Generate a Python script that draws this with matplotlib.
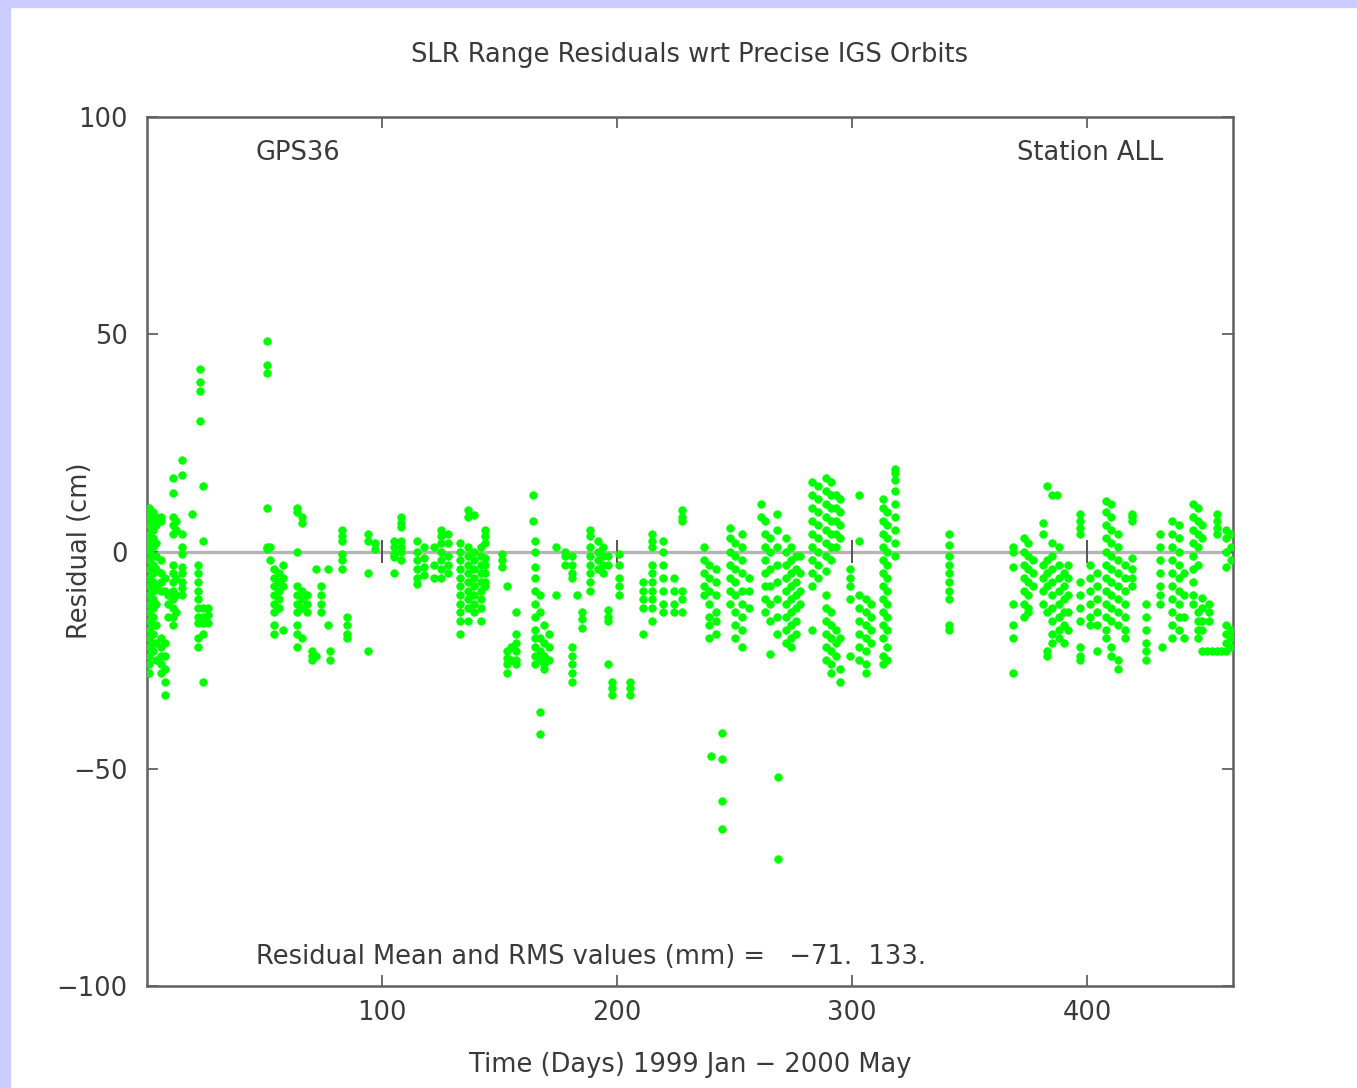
import matplotlib
matplotlib.use("Agg")
import matplotlib.pyplot as plt
from matplotlib.patches import Rectangle

# ---------------- data (day, residuals in cm) ----------------
early_1999 = [
    (1, [10, 9, 8, 6, 4, 3, 2, 1, 0, -2, -4, -6, -8, -10, -12, -14, -16, -18, -20, -22, -24, -26, -28]),
    (2.5, [9, 7, 5, 3, 1, -1, -3, -5, -7, -9, -11, -13, -15, -17, -19, -21, -23]),
    (4, [8, 6, 2, -1, -4, -8, -12, -17, -21, -25]),
    (6, [8, 7, -2, -5, -7, -9, -20, -22, -24, -26, -28]),
    (7.5, [-6, -9, -21, -24, -27, -30, -33]),
    (9, [-10, -12, -15]),
    (11, [17, 13.5, 8, 6, 4, -3, -5, -7, -9, -11, -13, -15, -17]),
    (12.5, [7, 5, -6, -10, -14]),
    (15, [21, 17.5, 4, 1, -0.5, -3.5, -5, -7, -8.5, -10]),
    (19, [8.7]),
    (21.5, [-3, -5, -7, -9, -11, -13, -15, -16.5, -20, -22]),
    (22.5, [42, 39, 37, 30]),
    (24, [15, 2.5, -13, -15, -16.5, -19, -30]),
    (26, [-13, -14.5, -16.5]),
]

spring_1999 = [
    (51, [48.5, 43, 41, 10, 1, 0.5]),
    (52.5, [1, -2]),
    (54, [-4, -6, -8, -10, -12, -14, -17, -19]),
    (56, [-5, -7, -9, -11, -13]),
    (58, [-3, -6, -8, -18]),
    (64, [10, 9, 0, -8, -10, -12, -14, -17, -19, -22]),
    (66, [8, 6.5, -9, -11, -13, -20]),
    (68, [-10, -12, -14]),
    (70, [-23, -24, -25]),
    (72, [-4, -24]),
    (74, [-8, -10, -12, -14]),
    (77, [-4, -17]),
    (78, [-23, -25]),
    (83, [5, 3.5, 2.5, -0.5, -2, -4]),
    (85, [-15, -17, -19, -20]),
    (94, [4, 2.5, -5, -23]),
    (97, [2, 0.5]),
]

summer_1999 = [
    (105, [2.5, 1, -0.5, -1.3, -5]),
    (108, [8, 6.5, 5.6, 2.5, 1, 0, -2]),
    (115, [2.5, 0, -2, -4, -6, -7.5]),
    (118, [1, -1.5, -3.5, -5.5]),
    (122, [1, -3, -6]),
    (125, [5, 3.5, 2, 0, -2, -4, -6]),
    (128, [4, 2, -1, -3, -5]),
    (133, [2, 0, -2, -4, -6, -8, -10, -12, -14, -16, -19]),
    (136.5, [9.5, 8, 1, -1, -3, -5, -7, -9, -11, -13, -16]),
    (139, [8.5, 0, -2, -4, -6, -8, -10, -12, -14]),
    (142, [1, -1, -3, -5, -7, -9, -11, -13, -16]),
    (144, [5, 3.5, 2, -1.4, -3, -5, -7, -8]),
    (151, [-0.5, -2, -3.5]),
    (153, [-8, -23, -24.5, -26, -28]),
    (155, [-22, -25]),
    (157, [-14, -19, -21, -23, -25, -26]),
    (164, [13, 7]),
    (165, [2.5, 0, -3.5, -6, -9, -12, -15, -18, -20, -22, -24, -26]),
    (167, [-10, -14, -20, -23, -25, -37, -42]),
    (169, [-17, -21, -24, -26, -27]),
    (171, [-19, -22, -25]),
    (174, [1, -10]),
    (178, [0, -1, -3]),
    (181, [-1, -3, -5, -6, -22, -24, -26, -28, -30]),
    (183, [-10]),
    (185, [-14, -15.5, -17.5]),
    (188.5, [5, 3.5, 1, -1, -3, -5, -7, -9]),
    (192, [2.5, 0, -2, -4]),
    (194, [1, -1, -3, -5]),
    (196, [-1, -3, -13.5, -15, -16, -26]),
    (198, [-30, -31.5, -33]),
    (201, [-0.5, -3, -6, -8, -10]),
    (205.5, [-30, -31.5, -33]),
    (211, [-7, -9, -11, -13, -19]),
    (215, [4, 2.5, 1, -3, -5, -7, -9, -11, -13, -16]),
    (219.5, [2.5, 0, -3, -6, -9, -12, -14]),
]

autumn_1999 = [
    (224, [-6, -9, -12, -14]),
    (227.5, [9.5, 8, 7, -9, -11, -14]),
    (237, [1, -2, -5, -8, -10]),
    (239, [-3, -6, -9, -12, -15, -17, -20]),
    (240, [-47]),
    (242, [-4, -7, -10, -14, -16, -19]),
    (244.5, [-41.7, -47.7, -57.4, -63.8]),
    (248, [5.5, 3, 0, -3, -6, -9, -12]),
    (250, [2, -1, -4, -7, -10, -14, -17, -20]),
    (253, [4, 1, -2, -5, -9, -12, -15, -18, -22]),
    (256, [-6, -9, -13]),
    (261, [11, 8]),
    (263, [7, 4, 1, -2, -5, -8, -11, -14]),
    (265, [3, 0, -4, -8, -12, -16, -23.5]),
    (268, [8.7, 5, 1, -3, -7, -11, -15, -19]),
    (268.5, [-52, -70.7]),
    (272, [3, 0, -3, -6, -9, -12, -15, -18, -21]),
    (274, [1, -2, -5, -8, -11, -14, -17, -20, -22]),
    (276, [-1, -4, -7, -10, -13, -16, -19]),
    (278, [-1, -5, -9, -12]),
    (283, [16, 13, 10, 7, 4, 1, -2, -5, -8, -18]),
    (285.5, [15, 12, 9, 6, 3, 0, -3, -6]),
    (289, [17, 14, 11, 8, 5, 2, -1, -4.5, -10, -13, -16, -19, -22, -25]),
    (291, [16, 13, 10, 7, 4, 1, -2, -14, -17, -20, -23, -26, -28]),
    (293, [13, 10, 7, 4, 1, -18, -21, -24]),
    (295, [12, 9, 6, 3, -20, -27, -30]),
    (299, [-4, -6, -8, -11, -24]),
    (303, [13, 2.5, -10, -13, -16, -19, -22, -25]),
    (306, [-11, -14, -17, -20, -23, -26, -28]),
    (308, [-12, -15, -18, -21]),
    (313, [12, 10, 7, 4, 1, -2, -5, -8, -11, -14, -17, -20, -24, -26]),
    (315, [9, 6, 3, 0, -3, -6, -9, -12, -15, -18, -22, -25]),
    (318, [19, 18, 16.5, 14, 11, 8, 5, 2, -1]),
    (341, [4, 1.5, -1, -3, -5, -7, -9, -11, -17, -18]),
]

spring_2000 = [
    (368.6, [1, 0, -3.5, -12, -17, -20, -28]),
    (373, [3, 0, -3, -6, -9, -12, -15]),
    (375, [2, -1, -4, -7, -10, -13, -14]),
    (377, [-2, -5, -8]),
    (381, [6.5, 4, -3, -6, -9, -12]),
    (383, [15, -2, -5, -8, -14, -23, -24]),
    (385, [13, 2, -1, -4, -7, -10, -13, -16, -19, -21]),
    (387, [13]),
    (388, [1, -3, -6, -9, -12, -15, -18, -20]),
    (390, [-5, -8, -11, -14, -17, -21]),
    (392, [-3, -6, -10, -14, -18]),
    (397, [8.7, 7, 5.5, 4, -7, -10, -13, -16, -22, -24, -25]),
    (401, [-3, -6, -9, -12, -15, -17]),
    (404, [-5, -8, -11, -14, -17, -23]),
    (408, [11.7, 9, 6, 3, 0, -3, -6, -9, -12, -15, -18, -20]),
    (410, [11, 8, 5, 2, -1, -4, -7, -10, -13, -16, -22, -24]),
    (413, [4, 1, -2, -5, -8, -11, -14, -17, -25, -27]),
    (416, [-3, -6, -9, -12, -15, -18, -20]),
    (419, [8.7, 8, 7, -1.4, -4, -6, -8]),
    (425, [-12, -15, -18, -21, -23, -25]),
    (431, [4, 1, -2, -5, -8, -10, -12]),
    (432, [-22]),
    (436, [7, 4, 1, -2, -5, -8, -11, -14, -17, -20]),
    (439, [6, 3, 0, -3, -6, -9, -12, -15, -18]),
    (441, [-5, -10, -15, -20]),
    (445, [11, 8, 5, 2, -1, -4, -7, -10, -12]),
    (447, [10, 7, 4, 1, -3, -14, -16, -18, -20]),
    (449, [6, 3, -10.6, -13, -16, -18, -23]),
    (451, [-23]),
    (452, [-12, -14, -16]),
    (453, [-23]),
    (455, [8.7, 7, 5.5, 4, -23]),
    (457, [-23]),
    (459, [5, 3, 0, -3.5, -17, -19, -21, -23]),
    (461, [4, 1, -2, -18, -20, -22]),
]

x_ticks = [100, 200, 300, 400]
y_ticks = [-100, -50, 0, 50, 100]
y_tick_labels = ["\u2212100", "\u221250", "0", "50", "100"]

title = "SLR Range Residuals wrt Precise IGS Orbits"
x_label = "Time (Days) 1999 Jan \u2212 2000 May"
y_label = "Residual (cm)"
sat_label = "GPS36"
station_label = "Station ALL"
stats_label = "Residual Mean and RMS values (mm) =   \u221271.  133."

# ---------------- figure ----------------
W, H = 1357, 1088
fig = plt.figure(figsize=(W / 100, H / 100), dpi=100)
fig.patch.set_facecolor("white")
lav = "#ccccff"
fig.patches.append(Rectangle((0, 0), 10 / W, 1, transform=fig.transFigure, color=lav, zorder=-10))
fig.patches.append(Rectangle((0, 1 - 7 / H), 1, 7 / H, transform=fig.transFigure, color=lav, zorder=-10))

ax = fig.add_axes([147 / W, (H - 986) / H, (1233 - 147) / W, (986 - 117) / H])
ax.set_xlim(0, 462)
ax.set_ylim(-100, 100)

txt_color = "#3a3a3a"
fs = 18.5

# zero line
ax.axhline(0, color="#b4b4b4", lw=2.4, zorder=1)
ax.vlines(x_ticks, -2.6, 2.6, color="#555555", lw=1.4, zorder=1.5)

green = "#00ff00"
for seg in (early_1999, spring_1999, summer_1999, autumn_1999, spring_2000):
    for day, vals in seg:
        ax.plot([day] * len(vals), vals, linestyle="none", marker="o",
                ms=5.4, mfc=green, mec=green, mew=0.6, zorder=3, clip_on=True)

for s in ax.spines.values():
    s.set_color("#606060")
    s.set_linewidth(1.8)

ax.set_xticks(x_ticks)
ax.set_xticklabels([str(t) for t in x_ticks])
ax.set_yticks(y_ticks)
ax.set_yticklabels(y_tick_labels)
ax.tick_params(axis="both", direction="in", length=8, width=1.2, color="#555555",
               labelsize=fs, labelcolor=txt_color, top=True, right=True)
ax.tick_params(axis="x", pad=10)
ax.tick_params(axis="y", pad=14)

fig.text(690 / W, 1 - 1065 / H, x_label, ha="center", va="center", fontsize=fs, color=txt_color)
fig.text(80 / W, 1 - 551 / H, y_label, ha="center", va="center", rotation=90, fontsize=fs, color=txt_color)
fig.text(690 / W, 1 - 55 / H, title, ha="center", va="center", fontsize=fs, color=txt_color)

ax.text(46, 91.8, sat_label, ha="left", va="center", fontsize=fs, color=txt_color)
ax.text(370, 91.8, station_label, ha="left", va="center", fontsize=fs, color=txt_color)
ax.text(46.4, -93.4, stats_label, ha="left", va="center", fontsize=fs, color=txt_color)

fig.savefig("out.png", dpi=100)
